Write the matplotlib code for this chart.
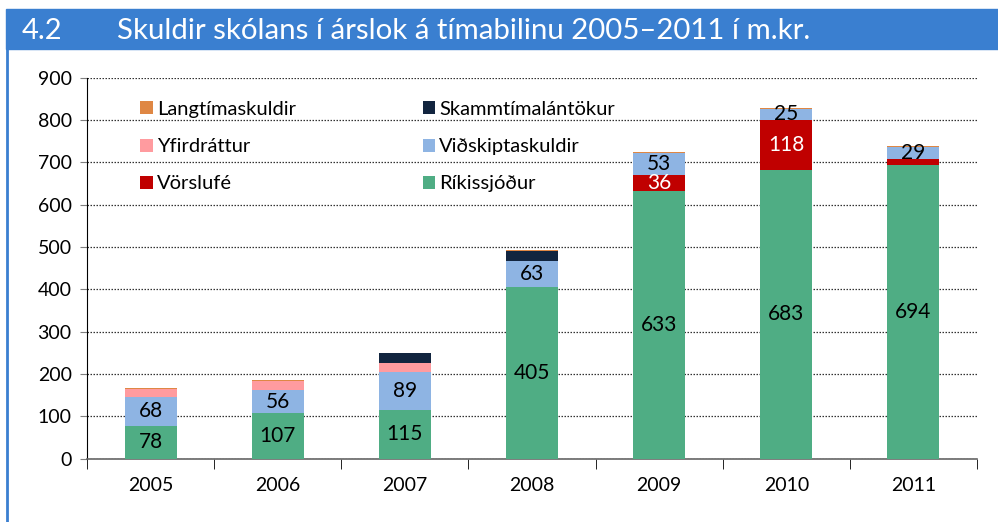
import matplotlib
matplotlib.use("Agg")
import matplotlib.pyplot as plt
import matplotlib.patches as mpatches
from matplotlib.lines import Line2D
import numpy as np

plt.rcParams['font.family'] = ['Lato', 'DejaVu Sans']

years = ["2005", "2006", "2007", "2008", "2009", "2010", "2011"]
rikissjodur = [78, 107, 115, 405, 633, 683, 694]
vorslufe = [0, 0, 0, 0, 36, 118, 13]
vidskiptaskuldir = [68, 56, 89, 63, 53, 25, 29]
yfirdrattur = [18, 21, 21, 0, 0, 0, 0]
skammtimalantokur = [0, 0, 25, 23, 0, 0, 0]
langtimaskuldir = [3, 3, 0, 2, 3, 2, 2]

rik_labels = [str(v) for v in rikissjodur]
vor_labels = ["", "", "", "", "36", "118", ""]
vid_labels = [str(v) for v in vidskiptaskuldir]

title_num = "4.2"
title_text = "Skuldir skólans í árslok á tímabilinu 2005–2011 í m.kr."

series = [
    ("Ríkissjóður", rikissjodur, "#4FAD84"),
    ("Vörslufé", vorslufe, "#C00000"),
    ("Viðskiptaskuldir", vidskiptaskuldir, "#8EB4E3"),
    ("Yfirdráttur", yfirdrattur, "#FF9B9F"),
    ("Skammtímalántökur", skammtimalantokur, "#12253F"),
    ("Langtímaskuldir", langtimaskuldir, "#DF8744"),
]

W, H = 998, 522
fig = plt.figure(figsize=(W / 100, H / 100), dpi=100)

# header band
fig.patches.append(mpatches.Rectangle((6 / W, 1 - 49 / H), 1, 40 / H,
                                      transform=fig.transFigure, color="#3A7FD0", zorder=0))
fig.lines.append(Line2D([7 / W, 7 / W], [0, 1 - 49 / H], transform=fig.transFigure,
                        color="#3A7FD0", linewidth=2))
fig.text(22 / W, 1 - 31 / H, title_num, color="white", fontsize=21, va="center", ha="left")
fig.text(117 / W, 1 - 31 / H, title_text, color="white", fontsize=21.2, va="center", ha="left")

ax = fig.add_axes([87 / W, (H - 458.7) / H, 890 / W, 381 / H])
x = np.arange(len(years))
bottom = np.zeros(len(years))
containers = {}
for name, vals, col in series:
    c = ax.bar(x, vals, width=0.41, bottom=bottom, color=col, label=name, zorder=3)
    containers[name] = c
    bottom += np.array(vals)

ax.bar_label(containers["Ríkissjóður"], labels=rik_labels, label_type="center",
             fontsize=15, color="black", zorder=4)
ax.bar_label(containers["Vörslufé"], labels=vor_labels, label_type="center",
             fontsize=15, color="white", zorder=4)
ax.bar_label(containers["Viðskiptaskuldir"], labels=vid_labels, label_type="center",
             fontsize=15, color="black", zorder=4)

ax.set_xlim(-0.5, len(years) - 0.5)
ax.set_ylim(0, 900)
ax.set_yticks(range(0, 901, 100))
ax.tick_params(axis="y", labelsize=14, length=5, color="#7f7f7f", pad=6)
ax.set_xticks(x)
ax.set_xticklabels(years)
ax.tick_params(axis="x", which="major", length=0, labelsize=14, pad=13)
ax.set_xticks(np.arange(-0.5, len(years), 1), minor=True)
ax.tick_params(axis="x", which="minor", length=7, color="black", direction="out")
ax.yaxis.grid(True, linestyle=(0, (1.2, 1.2)), color="#333333", linewidth=0.9, zorder=0)
ax.set_axisbelow(True)
for s in ["top", "right"]:
    ax.spines[s].set_visible(False)
ax.spines["left"].set_color("black")
ax.spines["bottom"].set_color("#666666")
ax.spines["bottom"].set_linewidth(1.2)

handles = {name: containers[name] for name, _, _ in series}
order = ["Langtímaskuldir", "Yfirdráttur", "Vörslufé",
         "Skammtímalántökur", "Viðskiptaskuldir", "Ríkissjóður"]
leg = ax.legend([handles[n] for n in order], order, ncol=2, loc="upper left",
                bbox_to_anchor=(0.051, 0.960), frameon=False, fontsize=14.5,
                handlelength=0.62, handleheight=0.62, handletextpad=0.2,
                labelspacing=1.0, columnspacing=6.3, borderaxespad=0)

fig.savefig("out.png", dpi=100)
